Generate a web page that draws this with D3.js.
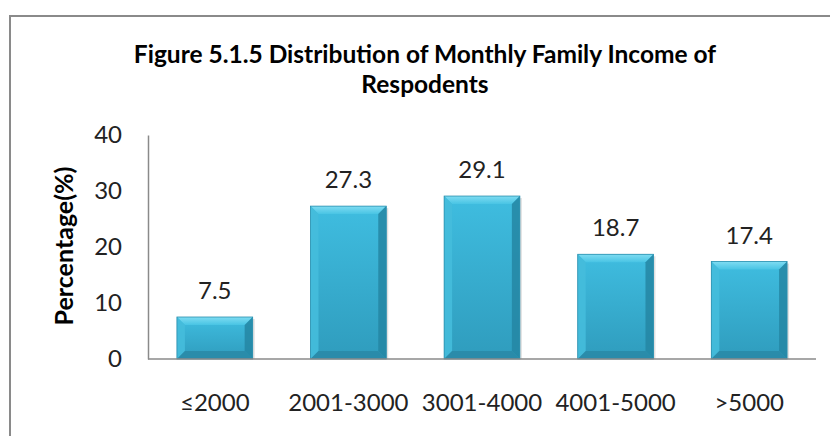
<!DOCTYPE html>
<html><head><meta charset="utf-8">
<script src="https://cdn.jsdelivr.net/npm/d3@7/dist/d3.min.js"></script>
<style>body{margin:0;background:#fff;}svg{display:block;}</style>
</head><body>
<script>
const categories = ["≤2000", "2001-3000", "3001-4000", "4001-5000", ">5000"];
const values = [7.5, 27.3, 29.1, 18.7, 17.4];
const valueLabels = ["7.5", "27.3", "29.1", "18.7", "17.4"];
const yTicks = [0, 10, 20, 30, 40];
const titleLines = ["Figure 5.1.5 Distribution of Monthly Family Income of", "Respodents"];
const yTitle = "Percentage(%)";

const W = 830, H = 436;
const svg = d3.select("body").append("svg").attr("width", W).attr("height", H);
const FONT = "Lato, 'Open Sans', sans-serif";

// frame
svg.append("path").attr("d", "M10,436 V16 H830").attr("fill", "none")
  .attr("stroke", "#8a8a8a").attr("stroke-width", 2);

const defs = svg.append("defs");
const g1 = defs.append("linearGradient").attr("id", "main").attr("x1", 0).attr("y1", 0).attr("x2", 0).attr("y2", 1);
g1.append("stop").attr("offset", "0%").attr("stop-color", "#3fbde0");
g1.append("stop").attr("offset", "100%").attr("stop-color", "#2f9cbd");
const g2 = defs.append("linearGradient").attr("id", "topb").attr("x1", 0).attr("y1", 0).attr("x2", 0).attr("y2", 1);
g2.append("stop").attr("offset", "0%").attr("stop-color", "#7fdcf2");
g2.append("stop").attr("offset", "100%").attr("stop-color", "#48c4e4");

const x = d3.scaleBand().domain(categories).range([148, 816]).paddingInner(0.433).paddingOuter(0.2165);
const y = d3.scaleLinear().domain([0, 40]).range([359, 135]);

// title
svg.append("g").selectAll("text").data(titleLines).join("text")
  .attr("x", 425).attr("y", (d, i) => 63 + i * 30)
  .attr("text-anchor", "middle").attr("font-family", FONT).attr("font-weight", "bold")
  .attr("font-size", 24.5).attr("fill", "#000").text(d => d);

// y axis title
svg.append("text").attr("transform", "translate(73,246) rotate(-90)")
  .attr("text-anchor", "middle").attr("font-family", FONT).attr("font-weight", "bold")
  .attr("font-size", 25).attr("fill", "#000").text(yTitle);

// y axis
const yAxis = svg.append("g").attr("transform", "translate(148,0)")
  .call(d3.axisLeft(y).tickValues(yTicks).tickSize(0).tickPadding(26));
yAxis.select(".domain").attr("stroke", "#8a8a8a").attr("stroke-width", 1.5);
yAxis.selectAll("text").attr("font-family", FONT).attr("font-size", 24).attr("fill", "#222");

// bars with bevel
const bars = svg.append("g").selectAll("g").data(values).join("g");
const bev = 8;
bars.each(function(v, i) {
  const g = d3.select(this);
  const x0 = x(categories[i]), w = x.bandwidth();
  const y0 = y(v), y1 = y(0);
  const x1 = x0 + w;
  g.append("rect").attr("x", x0 + 2).attr("y", y0 + 2).attr("width", w).attr("height", y1 - y0 - 2)
    .attr("fill", "#000").attr("opacity", 0.12);
  g.append("rect").attr("x", x0).attr("y", y0).attr("width", w).attr("height", y1 - y0).attr("fill", "url(#main)");
  const b = Math.min(bev, (y1 - y0) / 3);
  g.append("path").attr("d", `M${x0},${y0} H${x1} L${x1 - b},${y0 + b} H${x0 + b} Z`).attr("fill", "url(#topb)");
  g.append("path").attr("d", `M${x0},${y0} L${x0 + b},${y0 + b} V${y1 - b} L${x0},${y1} Z`).attr("fill", "#45bcdc").attr("opacity", 0.9);
  g.append("path").attr("d", `M${x1},${y0} L${x1 - b},${y0 + b} V${y1 - b} L${x1},${y1} Z`).attr("fill", "#2586a3").attr("opacity", 0.85);
  g.append("path").attr("d", `M${x0},${y1} L${x0 + b},${y1 - b} H${x1 - b} L${x1},${y1} Z`).attr("fill", "#2a8aa7").attr("opacity", 0.9);
  g.append("rect").attr("x", x0).attr("y", y0).attr("width", w).attr("height", y1 - y0)
    .attr("fill", "none").attr("stroke", "#2a8fae").attr("stroke-width", 0.8);
});

// baseline
svg.append("line").attr("x1", 148).attr("x2", 816).attr("y1", y(0)).attr("y2", y(0))
  .attr("stroke", "#8a8a8a").attr("stroke-width", 1.5);

// value labels
svg.append("g").selectAll("text").data(values).join("text")
  .attr("x", (d, i) => x(categories[i]) + x.bandwidth() / 2)
  .attr("y", d => y(d) - 18)
  .attr("text-anchor", "middle").attr("font-family", FONT).attr("font-size", 24).attr("fill", "#222")
  .text((d, i) => valueLabels[i]);

// category labels
svg.append("g").selectAll("text").data(categories).join("text")
  .attr("x", d => x(d) + x.bandwidth() / 2).attr("y", 411)
  .attr("text-anchor", "middle").attr("font-family", FONT).attr("font-size", 24).attr("fill", "#222")
  .text(d => d);
</script>
</body></html>
